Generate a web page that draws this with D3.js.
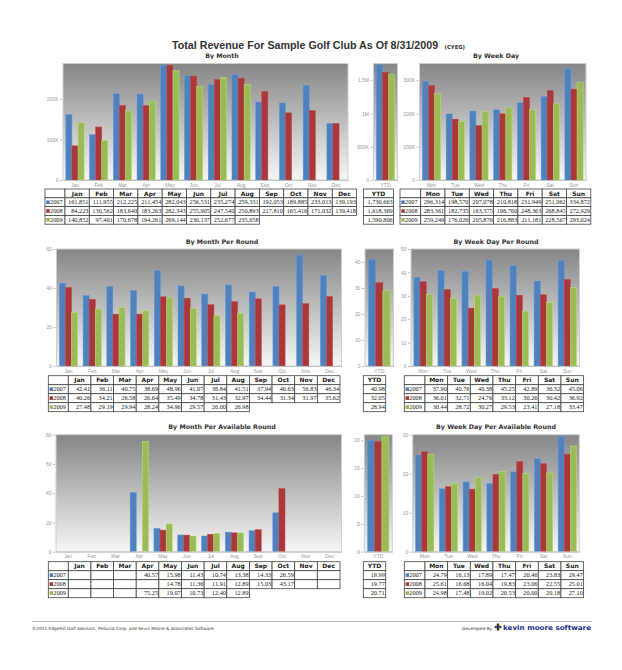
<!DOCTYPE html>
<html>
<head>
<meta charset="utf-8">
<script src="https://cdn.jsdelivr.net/npm/d3@7"></script>
<style>
  body { margin: 0; background: #fff; }
  svg { display: block; }
</style>
</head>
<body>
<div id="report"></div>
<script>

// page size
const width = 622;
const height = 670;

// categories
const months = ["Jan", "Feb", "Mar", "Apr", "May", "Jun", "Jul", "Aug", "Sep", "Oct", "Nov", "Dec"];
const weekDays = ["Mon", "Tue", "Wed", "Thu", "Fri", "Sat", "Sun"];
const ytdCats = ["YTD"];
const years = ["2007", "2008", "2009"];
const yearColors = ["#4f81bd", "#a8383a", "#9bbb59"];

// total revenue by month (2009 only through Aug)
const revMonth2007 = [161851, 111955, 212225, 211454, 282043, 256531, 235274, 259331, 192053, 189885, 233013, 139193];
const revMonth2008 = [84223, 130562, 183640, 183263, 282343, 255905, 247540, 250893, 217810, 165416, 171032, 139418];
const revMonth2009 = [140852, 97401, 170678, 194261, 269144, 230137, 252677, 235658];
const revYtd = [1730663, 1618369, 1590806];
const revWeek2007 = [296314, 198570, 207078, 210818, 231949, 251062, 334872];
const revWeek2008 = [283361, 182735, 163375, 198760, 248363, 268845, 272929];
const revWeek2009 = [259249, 176026, 205876, 216883, 211181, 228567, 293024];

// revenue per round
const roundMonth2007 = [42.41, 36.11, 40.75, 38.69, 48.96, 41.07, 36.84, 41.51, 37.94, 40.63, 56.83, 46.34];
const roundMonth2008 = [40.26, 34.21, 26.58, 26.64, 35.49, 34.78, 31.43, 32.97, 34.44, 31.34, 31.97, 35.62];
const roundMonth2009 = [27.48, 29.19, 29.94, 28.24, 34.96, 29.57, 26.00, 26.98];
const roundYtd = [40.98, 32.05, 28.94];
const roundWeek2007 = [37.90, 40.76, 40.38, 45.25, 42.89, 36.32, 45.06];
const roundWeek2008 = [36.01, 32.71, 24.76, 33.12, 30.26, 30.42, 36.92];
const roundWeek2009 = [30.44, 28.72, 30.27, 29.53, 23.41, 27.18, 33.47];

// revenue per available round (blank cells are null)
const availMonth2007 = [null, null, null, 40.57, 15.98, 11.43, 10.74, 13.38, 14.33, 26.59, null, null];
const availMonth2008 = [null, null, null, null, 14.78, 11.36, 11.91, 12.89, 15.03, 43.17, null, null];
const availMonth2009 = [null, null, null, 75.25, 19.07, 10.73, 12.40, 12.89];
const availYtd = [19.99, 19.77, 20.71];
const availWeek2007 = [24.79, 16.13, 17.89, 17.47, 20.46, 23.83, 29.47];
const availWeek2008 = [25.61, 16.68, 16.04, 19.83, 23.06, 22.55, 25.01];
const availWeek2009 = [24.98, 17.48, 19.02, 20.53, 20.00, 20.18, 27.10];

// axis tick values
const revMonthTicks = [0, 100000, 200000];
const revYtdTicks = [0, 500000, 1000000, 1500000];
const revWeekTicks = [0, 100000, 200000, 300000];
const roundMonthTicks = [0, 20, 40, 60];
const roundYtdTicks = [0, 10, 20, 30, 40];
const roundWeekTicks = [0, 10, 20, 30, 40, 50];
const availMonthTicks = [0, 20, 40, 60, 80];
const availYtdTicks = [0, 5, 10, 15, 20];
const availWeekTicks = [0, 10, 20, 30];


const svg = d3.select("#report")
  .append("svg")
  .attr("width", width)
  .attr("height", height);

const defs = svg.append("defs");

// gray to white background of every plot
const grad = defs.append("linearGradient")
  .attr("id", "plotBg")
  .attr("x1", 0).attr("y1", 0).attr("x2", 0).attr("y2", 1);
grad.append("stop").attr("offset", "0%").attr("stop-color", "#868686");
grad.append("stop").attr("offset", "100%").attr("stop-color", "#f6f6f6");

const fmtK = d => d === 0 ? "0" : d3.format("~s")(d).replace("k", "K");
const fmtNum = d => d === 0 ? "0" : d;
const fmtMoney = d3.format(",.0f");
const fmtRound = d3.format(".2f");

/*

  Title

*/

svg.append("text")
  .attr("x", 172)
  .attr("y", 49)
  .attr("font-family", "Liberation Sans")
  .attr("font-weight", "bold")
  .attr("font-size", "10.7px")
  .attr("fill", "#333")
  .text("Total Revenue For Sample Golf Club As Of 8/31/2009");

svg.append("text")
  .attr("x", 444.5)
  .attr("y", 48.5)
  .attr("font-family", "DejaVu Sans")
  .attr("font-weight", "bold")
  .attr("font-size", "5.3px")
  .attr("fill", "#333")
  .text("(CYEG)");

function subTitle(x, y, txt) {
  svg.append("text")
    .attr("x", x)
    .attr("y", y)
    .attr("text-anchor", "middle")
    .attr("font-family", "DejaVu Sans")
    .attr("font-weight", "bold")
    .attr("font-size", "6.3px")
    .attr("fill", "#333")
    .text(txt);
}

/*

  Plot panels

*/

let clipCount = 0;

// box = plot area, cats = x categories, series = one array per year
function drawPanel(box, cats, series, yMax, ticks, tickFmt) {

  const xScale = d3.scaleBand()
    .domain(cats)
    .range([box.left, box.right])
    .paddingInner(0.23)
    .paddingOuter(0.12);

  const xSub = d3.scaleBand()
    .domain(years)
    .range([0, xScale.bandwidth()]);

  const yScale = d3.scaleLinear()
    .domain([0, yMax])
    .range([box.bottom, box.top]);

  const clipId = "clip" + (clipCount++);
  defs.append("clipPath")
    .attr("id", clipId)
    .append("rect")
      .attr("x", box.left)
      .attr("y", box.top)
      .attr("width", box.right - box.left)
      .attr("height", box.bottom - box.top);

  // background
  svg.append("rect")
    .attr("x", box.left)
    .attr("y", box.top)
    .attr("width", box.right - box.left)
    .attr("height", box.bottom - box.top)
    .attr("fill", "url(#plotBg)")
    .attr("stroke", "#cfcfcf")
    .attr("stroke-width", 1);

  // flatten into one bar per category and year
  const bars = [];
  series.forEach((vals, i) => {
    vals.forEach((v, j) => {
      if (v !== null) bars.push({cat: cats[j], year: years[i], value: v, color: yearColors[i]});
    });
  });

  svg.append("g")
    .attr("clip-path", `url(#${clipId})`)
    .selectAll(".bar")
    .data(bars)
    .enter()
    .append("rect")
      .attr("class", "bar")
      .attr("x", d => xScale(d.cat) + xSub(d.year))
      .attr("y", d => yScale(d.value))
      .attr("width", xSub.bandwidth())
      .attr("height", d => box.bottom - yScale(d.value))
      .attr("fill", d => d.color)
      .attr("stroke", d => d3.color(d.color).brighter(0.5))
      .attr("stroke-width", 0.5);

  // y axis
  const yAxis = svg.append("g")
    .attr("transform", `translate(${box.left - 1}, 0)`)
    .call(d3.axisLeft(yScale).tickValues(ticks).tickFormat(tickFmt).tickSize(2).tickPadding(1.5));
  yAxis.select(".domain").remove();
  yAxis.selectAll("line").attr("stroke", "#bbb");
  yAxis.selectAll("text")
    .attr("font-family", "Liberation Sans")
    .attr("font-size", "5px")
    .attr("fill", "#999");

  // x axis
  const xAxis = svg.append("g")
    .attr("transform", `translate(0, ${box.bottom})`)
    .call(d3.axisBottom(xScale).tickSize(0).tickPadding(3));
  xAxis.select(".domain").attr("stroke", "#c4c4c4");
  xAxis.selectAll("text")
    .attr("font-family", "Liberation Sans")
    .attr("font-size", "5px")
    .attr("fill", "#999");
}

/*

  Data tables under the plots

*/

// t = {x, y, first, colW, rowH}; rows = one array per year
function drawTable(t, cats, rows, fmt) {

  const colScale = d3.scaleBand()
    .domain(cats)
    .range([t.x + t.first, t.x + t.first + t.colW * cats.length]);

  const g = svg.append("g");

  const cell = (x, y, w, h) => g.append("rect")
    .attr("x", x).attr("y", y)
    .attr("width", w).attr("height", h)
    .attr("fill", "#fff")
    .attr("stroke", "#444")
    .attr("stroke-width", 0.8);

  // header
  if (t.first > 0) cell(t.x, t.y, t.first, t.rowH);
  cats.forEach(c => {
    cell(colScale(c), t.y, colScale.bandwidth(), t.rowH);
    g.append("text")
      .attr("x", colScale(c) + colScale.bandwidth() / 2)
      .attr("y", t.y + t.rowH - 2.3)
      .attr("text-anchor", "middle")
      .attr("font-family", "DejaVu Sans")
      .attr("font-weight", "bold")
      .attr("font-size", "6px")
      .attr("fill", "#222")
      .text(c);
  });

  rows.forEach((vals, i) => {
    const y0 = t.y + t.rowH * (i + 1);
    if (t.first > 0) {
      cell(t.x, y0, t.first, t.rowH);
      g.append("rect")
        .attr("x", t.x + 1.2)
        .attr("y", y0 + 2.6)
        .attr("width", 3.6)
        .attr("height", 3.6)
        .attr("fill", yearColors[i]);
      g.append("text")
        .attr("x", t.x + 5)
        .attr("y", y0 + t.rowH - 2.3)
        .attr("font-family", "Liberation Serif")
        .attr("font-size", "6.3px")
        .attr("fill", "#222")
        .text(years[i]);
    }
    vals.forEach((v, j) => {
      const c = cats[j];
      cell(colScale(c), y0, colScale.bandwidth(), t.rowH);
      if (v !== null) {
        g.append("text")
          .attr("x", colScale(c) + colScale.bandwidth() - 0.8)
          .attr("y", y0 + t.rowH - 2.3)
          .attr("text-anchor", "end")
          .attr("font-family", "Liberation Serif")
          .attr("font-size", "6.3px")
          .attr("fill", "#222")
          .text(fmt(v));
      }
    });
  });
}

// ytd rows are one value each
const ytdRows = vals => vals.map(v => [v]);

/*

  Row 1: total revenue

*/

subTitle(222, 58, "By Month");
subTitle(496, 58, "By Week Day");

drawPanel({left: 63, right: 348, top: 63.5, bottom: 180}, months,
  [revMonth2007, revMonth2008, revMonth2009], 287000, revMonthTicks, fmtK);
drawPanel({left: 373.5, right: 397.5, top: 63.5, bottom: 180}, ytdCats,
  ytdRows(revYtd), 1750000, revYtdTicks, fmtK);
drawPanel({left: 419.5, right: 586, top: 63.5, bottom: 180}, weekDays,
  [revWeek2007, revWeek2008, revWeek2009], 350000, revWeekTicks, fmtK);

drawTable({x: 45, y: 189, first: 20, colW: 24.3, rowH: 8.8}, months,
  [revMonth2007, revMonth2008, revMonth2009], fmtMoney);
drawTable({x: 363.5, y: 189, first: 0, colW: 30, rowH: 8.8}, ytdCats,
  ytdRows(revYtd), fmtMoney);
drawTable({x: 400, y: 189, first: 20.7, colW: 24.3, rowH: 8.8}, weekDays,
  [revWeek2007, revWeek2008, revWeek2009], fmtMoney);

/*

  Row 2: revenue per round

*/

subTitle(222, 244, "By Month Per Round");
subTitle(496, 244, "By Week Day Per Round");

drawPanel({left: 56.5, right: 341.5, top: 249, bottom: 366}, months,
  [roundMonth2007, roundMonth2008, roundMonth2009], 60, roundMonthTicks, fmtNum);
drawPanel({left: 365, right: 393.5, top: 249, bottom: 366}, ytdCats,
  ytdRows(roundYtd), 45, roundYtdTicks, fmtNum);
drawPanel({left: 411, right: 579.5, top: 249, bottom: 366}, weekDays,
  [roundWeek2007, roundWeek2008, roundWeek2009], 50, roundWeekTicks, fmtNum);

drawTable({x: 48.3, y: 375.7, first: 20, colW: 22.64, rowH: 9}, months,
  [roundMonth2007, roundMonth2008, roundMonth2009], fmtRound);
drawTable({x: 363.3, y: 375.7, first: 0, colW: 22.4, rowH: 9}, ytdCats,
  ytdRows(roundYtd), fmtRound);
drawTable({x: 404.3, y: 375.7, first: 20.7, colW: 22.66, rowH: 9}, weekDays,
  [roundWeek2007, roundWeek2008, roundWeek2009], fmtRound);

/*

  Row 3: revenue per available round

*/

subTitle(222, 429, "By Month Per Available Round");
subTitle(496, 429, "By Week Day Per Available Round");

drawPanel({left: 56, right: 341.5, top: 434.7, bottom: 551.7}, months,
  [availMonth2007, availMonth2008, availMonth2009], 80, availMonthTicks, fmtNum);
drawPanel({left: 364.3, right: 392.3, top: 434.7, bottom: 551.7}, ytdCats,
  ytdRows(availYtd), 21, availYtdTicks, fmtNum);
drawPanel({left: 412.7, right: 579.3, top: 434.7, bottom: 551.7}, weekDays,
  [availWeek2007, availWeek2008, availWeek2009], 30, availWeekTicks, fmtNum);

drawTable({x: 48.3, y: 561.7, first: 20, colW: 22.64, rowH: 9}, months,
  [availMonth2007, availMonth2008, availMonth2009], fmtRound);
drawTable({x: 363.3, y: 561.7, first: 0, colW: 22.4, rowH: 9}, ytdCats,
  ytdRows(availYtd), fmtRound);
drawTable({x: 404.3, y: 561.7, first: 20.7, colW: 22.66, rowH: 9}, weekDays,
  [availWeek2007, availWeek2008, availWeek2009], fmtRound);

/*

  Footer

*/

svg.append("line")
  .attr("x1", 32).attr("x2", 592)
  .attr("y1", 621.5).attr("y2", 621.5)
  .attr("stroke", "#aaa")
  .attr("stroke-width", 0.8);

svg.append("text")
  .attr("x", 32)
  .attr("y", 629.5)
  .attr("font-family", "DejaVu Sans")
  .attr("font-size", "4.3px")
  .attr("fill", "#333")
  .text("©2011 Edgehill Golf Advisors, Pellucid Corp. and Kevin Moore & Associates Software");

svg.append("text")
  .attr("x", 492)
  .attr("y", 629.5)
  .attr("text-anchor", "end")
  .attr("font-family", "DejaVu Sans")
  .attr("font-size", "4.3px")
  .attr("fill", "#333")
  .text("Developed By");

// little logo mark
const logo = svg.append("g").attr("transform", "translate(498, 627)");
logo.append("circle").attr("r", 3).attr("fill", "#f2c500");
logo.append("rect").attr("x", -1).attr("y", -3.5).attr("width", 2).attr("height", 7).attr("fill", "#1c2f8c");
logo.append("rect").attr("x", -3.5).attr("y", -0.8).attr("width", 7).attr("height", 1.6).attr("fill", "#1c2f8c");

svg.append("text")
  .attr("x", 503)
  .attr("y", 629.8)
  .attr("font-family", "DejaVu Sans")
  .attr("font-weight", "bold")
  .attr("font-size", "6.8px")
  .attr("fill", "#1c2f8c")
  .attr("textLength", 88)
  .attr("lengthAdjust", "spacingAndGlyphs")
  .text("kevin moore software");

</script>
</body>
</html>
